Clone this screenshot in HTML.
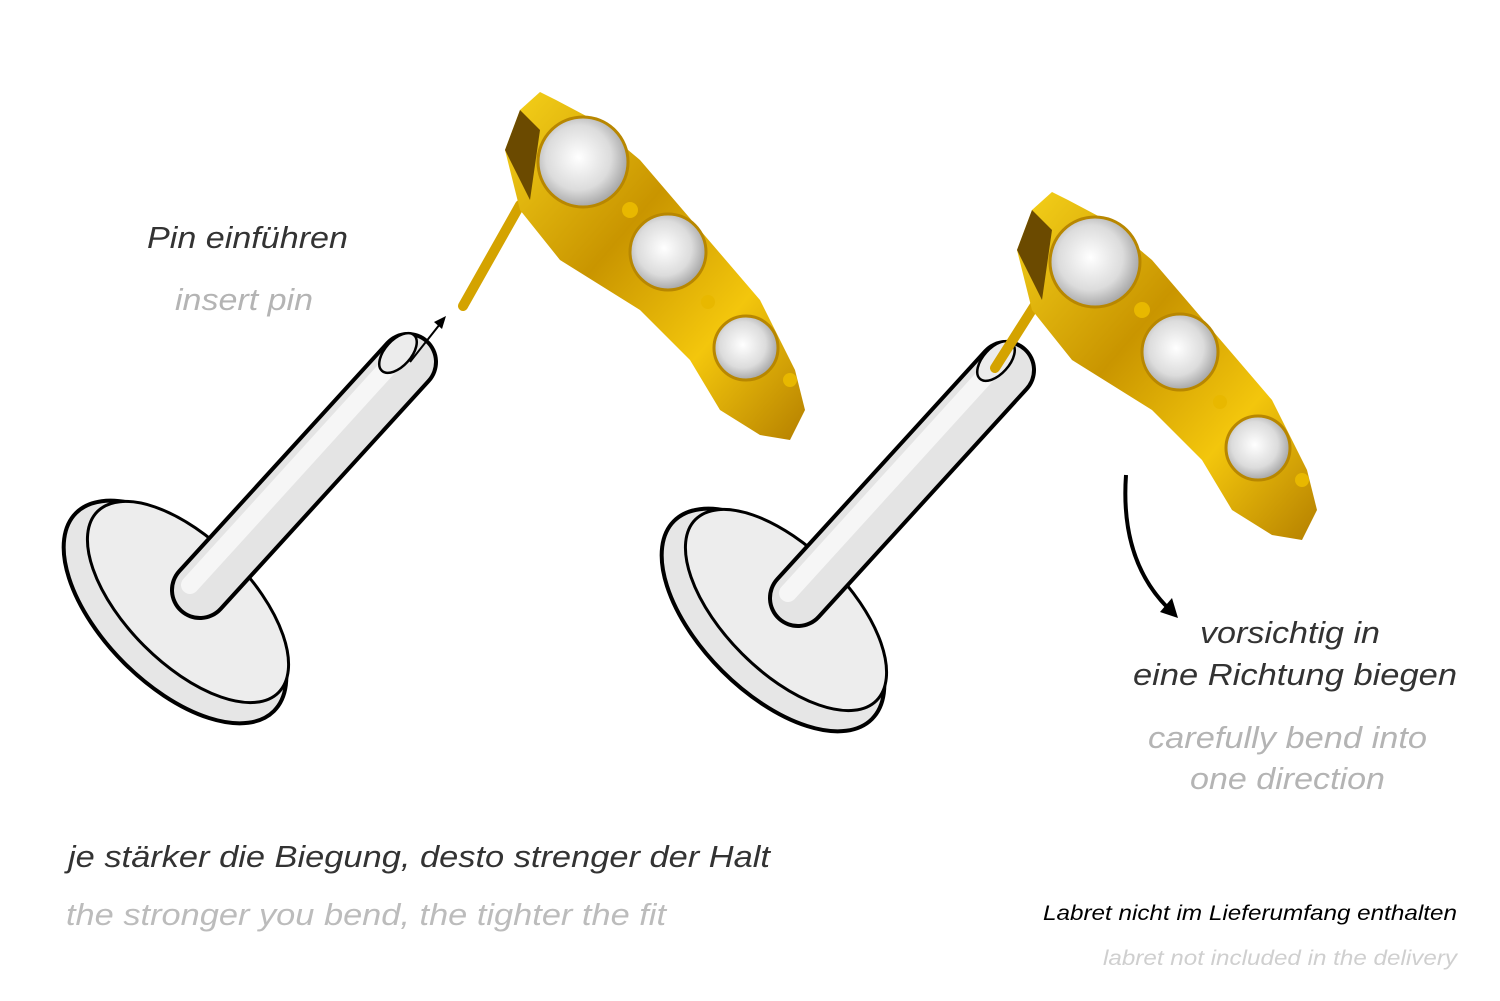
<!DOCTYPE html>
<html><head><meta charset="utf-8"><style>
html,body{margin:0;padding:0;background:#fff;}
svg{display:block}
text{font-family:"Liberation Sans",sans-serif;font-style:italic;}
</style></head><body>
<svg width="1500" height="1001" viewBox="0 0 1500 1001" xmlns="http://www.w3.org/2000/svg">
<defs>
<linearGradient id="g" x1="0" y1="0" x2="1" y2="1">
<stop offset="0" stop-color="#f6d21a"/><stop offset="0.4" stop-color="#c99500"/><stop offset="0.7" stop-color="#f3c60c"/><stop offset="1" stop-color="#b58000"/>
</linearGradient>
<radialGradient id="gem" cx="0.45" cy="0.45" r="0.6">
<stop offset="0" stop-color="#ffffff"/><stop offset="0.6" stop-color="#dcdcdc"/><stop offset="1" stop-color="#9a9a9a"/>
</radialGradient>
<g id="labret">
<ellipse cx="175" cy="612" rx="140" ry="72" transform="rotate(45 175 612)" fill="#e6e6e6" stroke="#000" stroke-width="4"/>
<ellipse cx="188" cy="602" rx="128" ry="62" transform="rotate(45 188 602)" fill="#ededed" stroke="#000" stroke-width="3"/>
<line x1="200" y1="590" x2="408" y2="362" stroke="#000" stroke-width="60" stroke-linecap="round"/>
<line x1="200" y1="590" x2="408" y2="362" stroke="#e4e4e4" stroke-width="52" stroke-linecap="round"/>
<line x1="190" y1="585" x2="390" y2="365" stroke="#f6f6f6" stroke-width="18" stroke-linecap="round"/>
<ellipse cx="398" cy="353" rx="13" ry="24" transform="rotate(42 398 353)" fill="#ececec" stroke="#000" stroke-width="2.5"/>
</g>
<g id="gold">
<path d="M520 110 L540 92 L556 100 L590 118 L640 160 L700 230 L760 300 L795 370 L805 410 L790 440 L760 435 L720 410 L690 360 L640 310 L560 260 L520 210 L505 150 Z" fill="url(#g)"/>
<path d="M505 150 L520 110 L540 130 L530 200 Z" fill="#6b4a00"/>
<circle cx="583" cy="162" r="45" fill="url(#gem)" stroke="#b88700" stroke-width="3"/>
<circle cx="668" cy="252" r="38" fill="url(#gem)" stroke="#b88700" stroke-width="3"/>
<circle cx="746" cy="348" r="32" fill="url(#gem)" stroke="#b88700" stroke-width="3"/>
<circle cx="630" cy="210" r="8" fill="#e8b800"/>
<circle cx="708" cy="302" r="7" fill="#e8b800"/>
<circle cx="790" cy="380" r="7" fill="#e8b800"/>
</g>
</defs>

<use href="#labret"/>
<use href="#labret" transform="translate(598,8)"/>

<line x1="463" y1="306" x2="520" y2="205" stroke="#d4a300" stroke-width="10" stroke-linecap="round"/>
<use href="#gold"/>
<line x1="410" y1="362" x2="440" y2="324" stroke="#000" stroke-width="2"/>
<polygon points="446,316 434,322 442,329" fill="#000"/>

<line x1="995" y1="368" x2="1035" y2="305" stroke="#d4a300" stroke-width="10" stroke-linecap="round"/>
<use href="#gold" transform="translate(512,100)"/>

<path d="M1126 475 Q1120 560 1168 608" fill="none" stroke="#000" stroke-width="4"/>
<polygon points="1178,618 1160,612 1172,598" fill="#000"/>

<text x="147" y="248" font-size="31" fill="#333" textLength="201" lengthAdjust="spacingAndGlyphs">Pin einführen</text>
<text x="175" y="310" font-size="31" fill="#b4b4b4" textLength="138" lengthAdjust="spacingAndGlyphs">insert pin</text>
<text x="1200" y="643" font-size="31" fill="#333" textLength="180" lengthAdjust="spacingAndGlyphs">vorsichtig in</text>
<text x="1133" y="685" font-size="31" fill="#333" textLength="324" lengthAdjust="spacingAndGlyphs">eine Richtung biegen</text>
<text x="1148" y="748" font-size="31" fill="#b4b4b4" textLength="279" lengthAdjust="spacingAndGlyphs">carefully bend into</text>
<text x="1190" y="789" font-size="31" fill="#b4b4b4" textLength="195" lengthAdjust="spacingAndGlyphs">one direction</text>
<text x="68" y="867" font-size="31" fill="#333" textLength="702" lengthAdjust="spacingAndGlyphs">je stärker die Biegung, desto strenger der Halt</text>
<text x="66" y="925" font-size="31" fill="#bcbcbc" textLength="600" lengthAdjust="spacingAndGlyphs">the stronger you bend, the tighter the fit</text>
<text x="1043" y="920" font-size="21" fill="#000" textLength="414" lengthAdjust="spacingAndGlyphs">Labret nicht im Lieferumfang enthalten</text>
<text x="1103" y="965" font-size="21" fill="#cfcfcf" textLength="354" lengthAdjust="spacingAndGlyphs">labret not included in the delivery</text>
</svg>
</body></html>
